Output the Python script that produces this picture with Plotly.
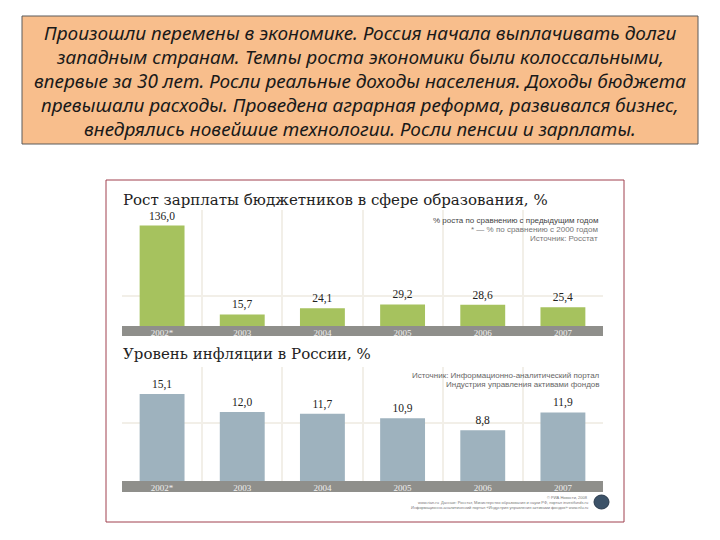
import plotly.graph_objects as go

# ---- data ----
years_salary = ["2002*", "2003", "2004", "2005", "2006", "2007"]
salary_growth = [136.0, 15.7, 24.1, 29.2, 28.6, 25.4]

years_infl = ["2002*", "2003", "2004", "2005", "2006", "2007"]
inflation = [15.1, 12.0, 11.7, 10.9, 8.8, 11.9]

intro_lines = [
    "Произошли перемены в экономике. Россия начала выплачивать долги",
    "западным странам. Темпы роста экономики были колоссальными,",
    "впервые за 30 лет. Росли реальные доходы населения. Доходы бюджета",
    "превышали расходы. Проведена аграрная реформа, развивался бизнес,",
    "внедрялись новейшие технологии. Росли пенсии и зарплаты.",
]
title1 = "Рост зарплаты бюджетников в сфере образования, %"
title2 = "Уровень инфляции в России, %"
note1 = ["% роста по сравнению с предыдущим годом",
         "* — % по сравнению с 2000 годом",
         "Источник: Росстат"]
note2 = ["Источник: Информационно-аналитический портал",
         "Индустрия управления активами фондов"]
footer = ["© РИА Новости, 2008",
          "www.rian.ru  Данные: Росстат, Министерство образования и науки РФ, портал investfunds.ru",
          "Информационно-аналитический портал «Индустрия управления активами фондов» www.nlu.ru"]

W, H = 720, 540
def px(x): return x / W
def py(y): return 1 - y / H

def fmt(v):
    return f"{v:.1f}".replace(".", ",")

GREEN = "#A6C25E"
BLUEGRAY = "#9EB2BE"
BEIGE = "#E8E4DA"
GRID = "#F2EFE8"
BAND = "#8F8F8B"

fig = go.Figure()

fig.add_trace(go.Bar(
    x=years_salary, y=salary_growth, text=[fmt(v) for v in salary_growth],
    textposition="outside", cliponaxis=False, width=0.56,
    marker=dict(color=GREEN, line=dict(width=0)),
    textfont=dict(family="Liberation Serif", size=11.5, color="#222222"),
    xaxis="x", yaxis="y", hoverinfo="skip"))

fig.add_trace(go.Bar(
    x=years_infl, y=inflation, text=[fmt(v) for v in inflation],
    textposition="outside", cliponaxis=False, width=0.56,
    marker=dict(color=BLUEGRAY, line=dict(width=0)),
    textfont=dict(family="Liberation Serif", size=11.5, color="#222222"),
    xaxis="x2", yaxis="y2", hoverinfo="skip"))

xcommon = dict(type="category", tickson="boundaries", showgrid=True, gridcolor=GRID,
               gridwidth=2, showline=False, zeroline=False, ticks="",
               tickfont=dict(family="Liberation Serif", size=9, color="#EEEEEE"),
               fixedrange=True)
ycommon = dict(showticklabels=False, showline=False, zeroline=False, ticks="",
               showgrid=True, gridcolor=GRID, gridwidth=2, fixedrange=True)

fig.update_layout(
    width=W, height=H, margin=dict(l=0, r=0, t=0, b=0),
    paper_bgcolor="white", plot_bgcolor=BEIGE, showlegend=False,
    bargap=0.44,
    xaxis=dict(domain=[px(122), px(603)], anchor="y", **xcommon),
    yaxis=dict(domain=[py(326), py(210)], anchor="x", range=[0, 157],
               tickvals=[40], **ycommon),
    xaxis2=dict(domain=[px(122), px(603)], anchor="y2", **xcommon),
    yaxis2=dict(domain=[py(481), py(367)], anchor="x2", range=[0, 19.8],
                tickvals=[10], **ycommon),
)
fig.update_traces(constraintext="none")

shapes = []
# intro text box
shapes.append(dict(type="rect", xref="paper", yref="paper",
                   x0=px(22), x1=px(698), y0=py(144), y1=py(16),
                   fillcolor="#F8BE8C", line=dict(color="#5A5A5A", width=1), layer="below"))
# chart frame
shapes.append(dict(type="rect", xref="paper", yref="paper",
                   x0=px(106), x1=px(624), y0=py(522), y1=py(180),
                   fillcolor="white", line=dict(color="#A0414F", width=1), layer="below"))
# gray axis bands
shapes.append(dict(type="rect", xref="paper", yref="paper",
                   x0=px(122), x1=px(603), y0=py(336), y1=py(326),
                   fillcolor=BAND, line=dict(width=0), layer="below"))
shapes.append(dict(type="rect", xref="paper", yref="paper",
                   x0=px(122), x1=px(603), y0=py(492), y1=py(481),
                   fillcolor=BAND, line=dict(width=0), layer="below"))
# logo
shapes.append(dict(type="circle", xref="paper", yref="paper",
                   x0=px(594), x1=px(609), y0=py(509), y1=py(495),
                   fillcolor="#3C5268", line=dict(color="#2A3A4C", width=1)))
fig.update_layout(shapes=shapes)

ann = []
for i, line in enumerate(intro_lines):
    ann.append(dict(xref="paper", yref="paper", x=px(360), y=py(33 + i * 24),
                    text=f"<i>{line}</i>", showarrow=False, xanchor="center", yanchor="middle",
                    font=dict(family="Noto Sans", size=19, color="#1A1A1A")))
ann.append(dict(xref="paper", yref="paper", x=px(121), y=py(200), text=title1,
                showarrow=False, xanchor="left", yanchor="middle",
                font=dict(family="DejaVu Serif", size=15, color="#222222")))
ann.append(dict(xref="paper", yref="paper", x=px(121), y=py(354), text=title2,
                showarrow=False, xanchor="left", yanchor="middle",
                font=dict(family="DejaVu Serif", size=15, color="#222222")))
for i, line in enumerate(note1):
    ann.append(dict(xref="paper", yref="paper", x=px(600), y=py(220 + i * 9), text=line,
                    showarrow=False, xanchor="right", yanchor="middle",
                    font=dict(family="Liberation Sans", size=8,
                              color="#444444" if i == 0 else "#777777")))
for i, line in enumerate(note2):
    ann.append(dict(xref="paper", yref="paper", x=px(602), y=py(375 + i * 9), text=line,
                    showarrow=False, xanchor="right", yanchor="middle",
                    font=dict(family="Liberation Sans", size=8, color="#666666")))
for i, line in enumerate(footer):
    ann.append(dict(xref="paper", yref="paper", x=px(590), y=py(497 + i * 5), text=line,
                    showarrow=False, xanchor="right", yanchor="middle",
                    font=dict(family="Liberation Sans", size=4, color="#777777")))
fig.update_layout(annotations=ann)

fig.write_html("out.html", config={"displayModeBar": False},
               post_script="document.body.style.margin='0';document.body.style.overflow='hidden';")
